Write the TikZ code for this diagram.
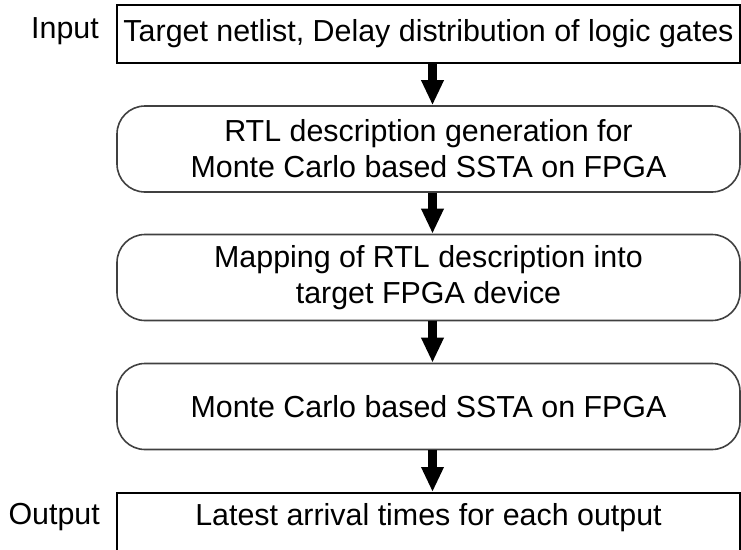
\documentclass[tikz,border=0pt]{standalone}
\usepackage{fontspec}
\setmainfont{Liberation Sans}
\usetikzlibrary{arrows.meta}

\newcommand{\flowfont}{\fontsize{30.4pt}{36pt}\selectfont}

\begin{document}
\begin{tikzpicture}[x=1pt, y=-1pt,
    every node/.style={font=\flowfont, inner sep=0pt},
    iobox/.style={draw=black, line width=1.6pt, minimum width=623pt, minimum height=58pt},
    stepbox/.style={draw=black!75, line width=1.6pt, rounded corners=28pt,
      minimum width=623pt, minimum height=86pt, align=center},
    flow/.style={line width=9pt, -{Triangle[width=21pt, length=25pt]}}]
    \useasboundingbox (0,0) rectangle (741,549);

    % Input and the three processing steps
    \node[iobox] (in) at (428.5,34) {Target netlist, Delay distribution of logic gates};
    \node[anchor=base east] (inlabel) at (99,38) {Input};

    \node[stepbox] (gen) at (428.5,149) {RTL description generation for\\Monte Carlo based SSTA on FPGA};
    \node[stepbox] (map) at (428.5,277.5) {Mapping of RTL description into\\target FPGA device};
    \node[stepbox] (ssta) at (428.5,406.5) {Monte Carlo based SSTA on FPGA};

    % Output box runs off the lower edge
    \node[iobox, anchor=north, minimum height=59pt, text depth=16pt] (out) at (428.5,492)
      {Latest arrival times for each output};
    \node[anchor=base east] (outlabel) at (100,524) {Output};

    % Arrows between the stages
    \draw[flow] ([xshift=4pt]in.south) -- ([xshift=4pt]gen.north);
    \draw[flow] ([xshift=4pt]gen.south) -- ([xshift=4pt]map.north);
    \draw[flow] ([xshift=4pt]map.south) -- ([xshift=4pt]ssta.north);
    \draw[flow] ([xshift=4pt]ssta.south) -- ([xshift=4pt]out.north);
\end{tikzpicture}
\end{document}
